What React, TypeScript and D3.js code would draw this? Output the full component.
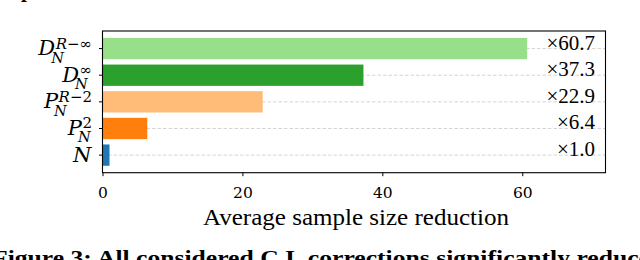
import React, { useEffect, useRef } from 'react';
import * as d3 from 'd3';

// bars top -> bottom
const mainLetters = ['D', 'D', 'P', 'P', 'N'];
const supTexts = ['R\u2212\u221e', '\u221e', 'R\u22122', '2', ''];
const subTexts = ['N', 'N', 'N', 'N', ''];
const reductions = [60.7, 37.3, 22.9, 6.4, 1.0];
const valueLabels = ['\u00d760.7', '\u00d737.3', '\u00d722.9', '\u00d76.4', '\u00d71.0'];
const barColors = ['#98df8a', '#2ca02c', '#ffbb78', '#ff7f0e', '#1f77b4'];
const xTicks = [0, 20, 40, 60];
const xLabel = 'Average sample size reduction';
const caption = 'Figure 3: All considered C.I. corrections significantly reduce';

const W = 640;
const H = 260;
const serif = '"Liberation Serif", "Times New Roman", serif';
const mathFont = '"DejaVu Serif", serif';

const App = () => {
  const ref = useRef<SVGSVGElement>(null);

  useEffect(() => {
    const svg = d3.select(ref.current);
    svg.selectAll('*').remove();

    const left = 102.5, right = 605.5, top = 31, bottom = 172.7;

    const x = d3.scaleLinear().domain([0, 71.9]).range([left, right]);
    const y = d3.scaleLinear().domain([-0.66, 4.66]).range([top, bottom]);
    const barH = (y(0.4) - y(-0.4));

    // dashed guide lines behind the bars
    svg.append('g')
      .selectAll('line')
      .data(reductions)
      .enter()
      .append('line')
      .attr('x1', left)
      .attr('x2', right)
      .attr('y1', (_, i) => y(i))
      .attr('y2', (_, i) => y(i))
      .attr('stroke', '#d4d4d4')
      .attr('stroke-width', 1)
      .attr('stroke-dasharray', '3.5,2');

    svg.append('g')
      .selectAll('rect')
      .data(reductions)
      .enter()
      .append('rect')
      .attr('x', x(0))
      .attr('y', (_, i) => y(i) - barH / 2)
      .attr('width', d => x(d) - x(0))
      .attr('height', barH)
      .attr('fill', (_, i) => barColors[i]);

    // value labels on the right
    svg.append('g')
      .selectAll('text')
      .data(valueLabels)
      .enter()
      .append('text')
      .attr('x', 595)
      .attr('y', (_, i) => y(i) + 1)
      .attr('text-anchor', 'end')
      .style('font-family', serif)
      .style('font-size', '21px')
      .text(d => d);

    // frame
    svg.append('rect')
      .attr('x', left)
      .attr('y', top)
      .attr('width', right - left)
      .attr('height', bottom - top)
      .attr('fill', 'none')
      .attr('stroke', '#000')
      .attr('stroke-width', 1.1);

    // x axis
    const xAxis = svg.append('g')
      .attr('transform', `translate(0,${bottom})`)
      .call(d3.axisBottom(x).tickValues(xTicks).tickSize(3.5).tickPadding(11).tickFormat(d3.format('d')));
    xAxis.select('.domain').remove();
    xAxis.selectAll('text')
      .style('font-family', mathFont)
      .style('font-size', '15.5px')
      .attr('fill', '#000');

    svg.append('text')
      .attr('x', (left + right) / 2 + 2)
      .attr('y', 225)
      .attr('text-anchor', 'middle')
      .attr('textLength', 306)
      .attr('lengthAdjust', 'spacingAndGlyphs')
      .style('font-family', serif)
      .style('font-size', '24px')
      .text(xLabel);

    // y ticks
    svg.append('g')
      .selectAll('line')
      .data(reductions)
      .enter()
      .append('line')
      .attr('x1', left - 3.5)
      .attr('x2', left)
      .attr('y1', (_, i) => y(i))
      .attr('y2', (_, i) => y(i))
      .attr('stroke', '#000')
      .attr('stroke-width', 1);

    // y tick labels, math style
    mainLetters.forEach((m, i) => {
      const g = svg.append('g');
      const t = g.append('text')
        .attr('x', 0)
        .attr('y', 0)
        .style('font-family', mathFont)
        .style('font-style', 'italic')
        .style('font-size', '21px')
        .text(m);
      const w = (t.node() as SVGTextElement).getComputedTextLength();
      if (supTexts[i]) {
        g.append('text')
          .attr('x', w + 0.5)
          .attr('y', -6.5)
          .style('font-family', mathFont)
          .style('font-size', '15px')
          .selectAll('tspan')
          .data(supTexts[i].split(''))
          .enter()
          .append('tspan')
          .style('font-style', c => (c === 'R' ? 'italic' : 'normal'))
          .text(c => c);
      }
      if (subTexts[i]) {
        g.append('text')
          .attr('x', w - 4)
          .attr('y', 7.5)
          .style('font-family', mathFont)
          .style('font-style', 'italic')
          .style('font-size', '14.5px')
          .text(subTexts[i]);
      }
      const bb = (g.node() as SVGGElement).getBBox();
      g.attr('transform', `translate(${92 - (bb.x + bb.width)},${y(i) + 6.5})`);
    });

    // caption (cut off at the page bottom)
    svg.append('text')
      .attr('x', -8)
      .attr('y', 265)
      .attr('textLength', 658)
      .attr('lengthAdjust', 'spacingAndGlyphs')
      .style('font-family', serif)
      .style('font-weight', 'bold')
      .style('font-size', '22px')
      .text(caption);

    svg.append('text')
      .attr('x', 21)
      .attr('y', -3)
      .style('font-family', serif)
      .style('font-weight', 'bold')
      .style('font-size', '21px')
      .text('p');
  }, []);

  return (
    <svg
      ref={ref}
      width={W}
      height={H}
      style={{ position: 'absolute', left: 0, top: 0, background: '#fff' }}
    />
  );
};

export default App;
